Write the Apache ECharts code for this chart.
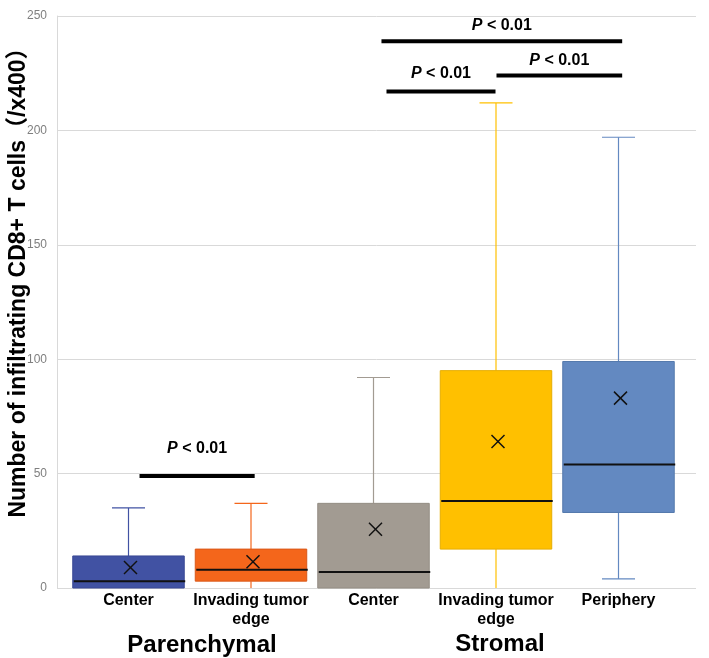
<!DOCTYPE html>
<html>
<head>
<meta charset="utf-8">
<script src="https://cdn.jsdelivr.net/npm/echarts@6/dist/echarts.min.js"></script>
<style>
html,body{margin:0;padding:0;background:#fff;}
#chart{width:709px;height:658px;}
</style>
</head>
<body>
<div id="chart"></div>
<script>
// ---- data ----
const categories = ['Center', 'Invading tumor\nedge', 'Center', 'Invading tumor\nedge', 'Periphery'];
const groups = ['Parenchymal', 'Stromal'];
const whiskerMin = [0, 0, 0, 0, 4];
const q1 = [0, 3, 0, 17, 33];
const median = [3, 8, 7, 38, 54];
const q3 = [14, 17, 37, 95, 99];
const whiskerMax = [35, 37, 92, 212, 197];
const mean = [9, 11.5, 25.7, 64, 83];
const yTicks = [0, 50, 100, 150, 200, 250];
const yTitle = 'Number of infiltrating CD8+ T cells（/x400）';
// significance brackets (x in category units, y in data units)
const sigStart = [0.09, 2.065, 2.106, 3.004];
const sigEnd = [1.03, 4.03, 2.996, 4.03];
const sigY = [49, 239, 217, 224];
const sigLabelY = [61, 246, 225, 230.5];
const sigLabel = ['P < 0.01', 'P < 0.01', 'P < 0.01', 'P < 0.01'];

// ---- styles ----
const boxColors = ['#4152A3', '#F4661B', '#A29B92', '#FFC000', '#6389C1'];
const boxBorders = ['#3A4894', '#D9581A', '#948D84', '#E6AD00', '#5479AD'];
const FONT = '"Liberation Sans", Arial, "Noto Sans CJK JP", sans-serif';

const boxData = categories.map((c, i) => [i, whiskerMin[i], q1[i], median[i], q3[i], whiskerMax[i], mean[i]]);
const sigData = sigStart.map((s, i) => [s, sigEnd[i], sigY[i], sigLabelY[i], i]);

function renderBox(params, api) {
  const i = api.value(0);
  const band = api.size([1, 0])[0];
  const cx = api.coord([i, 0])[0];
  const bw = band * 0.91;
  const capW = 33;
  const yMin = api.coord([i, api.value(1)])[1];
  const yQ1 = api.coord([i, api.value(2)])[1];
  const yMed = api.coord([i, api.value(3)])[1];
  const yQ3 = api.coord([i, api.value(4)])[1];
  const yMax = api.coord([i, api.value(5)])[1];
  const yMean = api.coord([i, api.value(6)])[1];
  const col = boxColors[i];
  const bcol = boxBorders[i];
  const children = [];
  const wStyle = { stroke: col, lineWidth: 1.2 };
  children.push({ type: 'line', shape: { x1: cx, y1: yQ3, x2: cx, y2: yMax }, style: wStyle });
  children.push({ type: 'line', shape: { x1: cx - capW / 2, y1: yMax, x2: cx + capW / 2, y2: yMax }, style: wStyle });
  if (api.value(2) > api.value(1)) {
    children.push({ type: 'line', shape: { x1: cx, y1: yQ1, x2: cx, y2: yMin }, style: wStyle });
    if (api.value(1) > 0) {
      children.push({ type: 'line', shape: { x1: cx - capW / 2, y1: yMin, x2: cx + capW / 2, y2: yMin }, style: wStyle });
    }
  }
  children.push({ type: 'rect', shape: { x: cx - bw / 2, y: yQ3, width: bw, height: yQ1 - yQ3 },
    style: { fill: col, stroke: bcol, lineWidth: 1 } });
  children.push({ type: 'line', shape: { x1: cx - bw / 2 + 1, y1: yMed, x2: cx + bw / 2 + 1, y2: yMed },
    style: { stroke: '#111', lineWidth: 2 } });
  const h = 6.5;
  const cmx = cx + 2;
  children.push({ type: 'line', shape: { x1: cmx - h, y1: yMean - h, x2: cmx + h, y2: yMean + h }, style: { stroke: '#111', lineWidth: 1.5 } });
  children.push({ type: 'line', shape: { x1: cmx - h, y1: yMean + h, x2: cmx + h, y2: yMean - h }, style: { stroke: '#111', lineWidth: 1.5 } });
  return { type: 'group', children };
}

function renderSig(params, api) {
  const p1 = api.coord([api.value(0), api.value(2)]);
  const p2 = api.coord([api.value(1), api.value(2)]);
  const pl = api.coord([(api.value(0) + api.value(1)) / 2, api.value(3)]);
  const txt = sigLabel[api.value(4)].replace(/^P/, '{p|P}');
  return {
    type: 'group',
    children: [
      { type: 'rect', shape: { x: p1[0], y: p1[1] - 2, width: p2[0] - p1[0], height: 4 }, style: { fill: '#000' } },
      { type: 'text', x: pl[0], y: pl[1],
        style: { text: txt, fill: '#000', font: 'bold 16px ' + FONT, align: 'center', verticalAlign: 'middle',
          rich: { p: { fontStyle: 'italic', fontWeight: 'bold', fontSize: 16, fontFamily: FONT, fill: '#000' } } } }
    ]
  };
}

const chart = echarts.init(document.getElementById('chart'), null, { renderer: 'canvas' });
chart.setOption({
  animation: false,
  backgroundColor: '#fff',
  grid: [
    { left: 57, right: 13, top: 16, bottom: 70 },
    { left: 67.25, right: 29.25, top: 16, bottom: 70 }
  ],
  xAxis: [
    { gridIndex: 0, type: 'value', min: 0, max: 1, show: false },
    { gridIndex: 1, type: 'category', data: categories,
      axisLine: { show: false }, axisTick: { show: false }, splitLine: { show: false },
      axisLabel: { interval: 0, margin: 3, color: '#000', fontWeight: 'bold', fontSize: 16, lineHeight: 19, fontFamily: FONT } },
    { gridIndex: 1, type: 'value', min: -0.5, max: 4.5, show: false }
  ],
  yAxis: [
    { gridIndex: 0, type: 'value', min: yTicks[0], max: yTicks[yTicks.length - 1], interval: 50,
      axisLine: { show: true, lineStyle: { color: '#d9d9d9', width: 1 } },
      axisTick: { show: false },
      axisLabel: { color: '#7f7f7f', fontSize: 12, margin: 10, fontFamily: FONT },
      splitLine: { show: true, lineStyle: { color: '#d9d9d9', width: 1 } } },
    { gridIndex: 1, type: 'value', min: 0, max: 250, show: false }
  ],
  series: [
    { type: 'custom', xAxisIndex: 1, yAxisIndex: 1, data: boxData, renderItem: renderBox,
      encode: { x: 0, y: [1, 2, 3, 4, 5, 6] }, clip: false, z: 3 },
    { type: 'custom', xAxisIndex: 2, yAxisIndex: 1, data: sigData, renderItem: renderSig,
      encode: { x: [0, 1], y: [2, 3] }, clip: false, z: 4 }
  ],
  graphic: [
    { type: 'text', x: 19, y: 277, rotation: Math.PI / 2,
      style: { text: yTitle, font: 'bold 23px ' + FONT, fill: '#000', align: 'center', verticalAlign: 'middle' } },
    { type: 'text', x: 202, y: 645,
      style: { text: groups[0], font: 'bold 24px ' + FONT, fill: '#000', align: 'center', verticalAlign: 'middle' } },
    { type: 'text', x: 500, y: 644,
      style: { text: groups[1], font: 'bold 24px ' + FONT, fill: '#000', align: 'center', verticalAlign: 'middle' } }
  ]
});
</script>
</body>
</html>
